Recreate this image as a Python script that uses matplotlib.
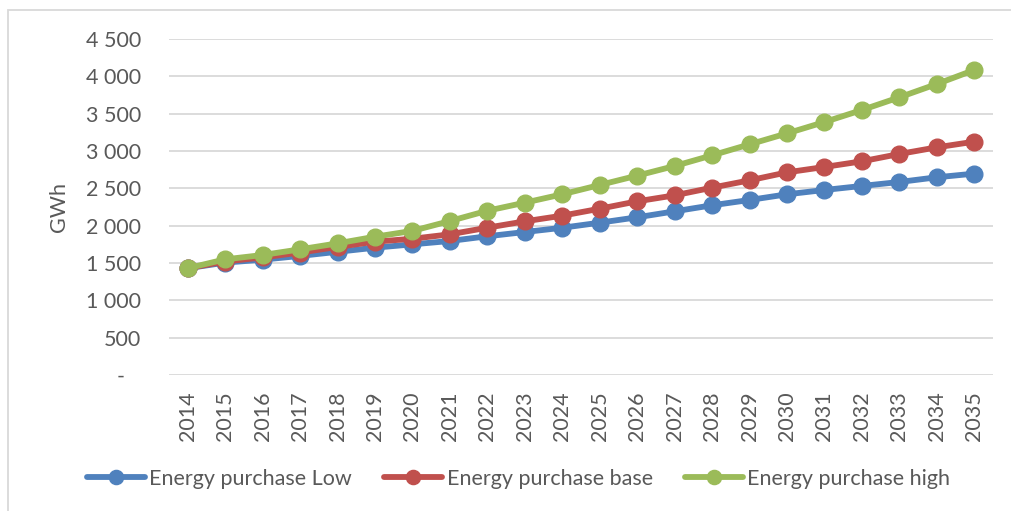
import matplotlib
matplotlib.use("Agg")
import matplotlib.pyplot as plt
from matplotlib.patches import Rectangle
from matplotlib.ticker import FuncFormatter

years = [str(y) for y in range(2014, 2036)]
energy_low = [1430, 1505, 1545, 1595, 1650, 1705, 1750, 1795, 1858, 1915, 1972, 2040,
              2112, 2192, 2273, 2344, 2420, 2478, 2532, 2585, 2648, 2697]
energy_base = [1430, 1520, 1575, 1640, 1715, 1785, 1825, 1884, 1973, 2058, 2134, 2227,
               2326, 2406, 2509, 2607, 2714, 2786, 2862, 2960, 3049, 3125]
energy_high = [1430, 1549, 1607, 1683, 1763, 1852, 1930, 2062, 2200, 2308, 2420, 2545,
               2670, 2799, 2942, 3089, 3236, 3388, 3549, 3719, 3897, 4085]
series_names = ["Energy purchase Low", "Energy purchase base", "Energy purchase high"]
y_ticks = [0, 500, 1000, 1500, 2000, 2500, 3000, 3500, 4000, 4500]

TEXT = "#595959"
GRID = "#D9D9D9"
FONT = ["Lato", "DejaVu Sans"]
plt.rcParams["font.family"] = FONT

W, H = 1011, 511
fig = plt.figure(figsize=(W / 100, H / 100), dpi=100)
fig.patch.set_facecolor("white")

# chart-area frame
fig.add_artist(Rectangle((7.5 / W, -0.1), 1.2, (H - 9.5) / H + 0.1,
                         transform=fig.transFigure, fill=False,
                         edgecolor=GRID, linewidth=1.3))

left, right, top, bottom = 169, 993, 39, 375
ax = fig.add_axes([left / W, 1 - bottom / H, (right - left) / W, (bottom - top) / H])

x = list(range(len(years)))
colors = ["#4F81BD", "#C0504D", "#9BBB59"]
for vals, name, c in zip([energy_low, energy_base, energy_high], series_names, colors):
    ax.plot(x, vals, color=c, linewidth=4.2, marker="o", markersize=12,
            markerfacecolor=c, markeredgecolor=c, label=name,
            solid_capstyle="round", solid_joinstyle="round", zorder=3)

ax.set_xlim(-0.5, len(years) - 0.5)
ax.set_ylim(0, 4500)
ax.set_yticks(y_ticks)


def fmt(v, pos):
    if v == 0:
        return "-   "
    return f"{int(v):,}".replace(",", " ")


ax.yaxis.set_major_formatter(FuncFormatter(fmt))
ax.set_xticks(x)
ax.set_xticklabels(years, rotation=90)
ax.tick_params(axis="y", length=0, pad=20, labelsize=15.5, labelcolor=TEXT)
ax.tick_params(axis="x", length=0, pad=12, labelsize=15.5, labelcolor=TEXT)
for lab in ax.get_xticklabels():
    lab.set_va("top")

ax.grid(axis="y", color=GRID, linewidth=1.3, zorder=0)
ax.grid(axis="x", visible=False)
for s in ax.spines.values():
    s.set_visible(False)

ax.set_ylabel("GWh", fontsize=15.5, color=TEXT)
ax.yaxis.set_label_coords((69 - left) / (right - left), 0.5)

fig.legend(loc="center", bbox_to_anchor=(518.5 / W, 1 - 479 / H), ncol=3,
           frameon=False, fontsize=15.5, handlelength=2.7, handletextpad=0.2,
           columnspacing=1.5, labelcolor=TEXT, markerscale=0.85)

fig.savefig("out.png", dpi=100, facecolor="white")
